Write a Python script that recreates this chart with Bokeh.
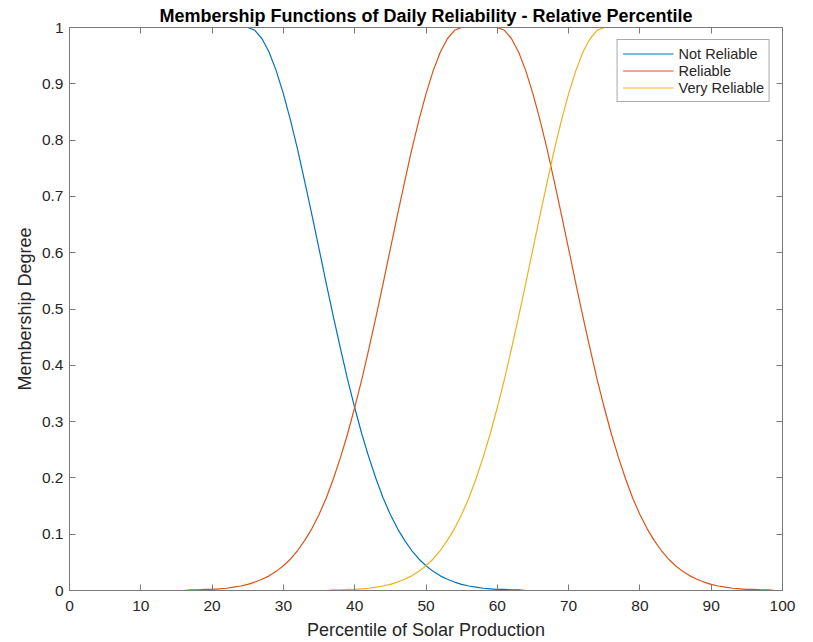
from bokeh.plotting import figure
from bokeh.models import (Range1d, LinearAxis, FixedTicker, Legend, LegendItem)
from bokeh.embed import file_html
from bokeh.resources import INLINE

# ---- data ----
x = list(range(0, 101))

not_reliable = [1.0] * 26 + [
    0.995, 0.980, 0.956, 0.923, 0.882, 0.835, 0.783, 0.726, 0.667, 0.607,
    0.546, 0.487, 0.430, 0.375, 0.325, 0.278, 0.236, 0.198, 0.164, 0.135,
    0.110, 0.089, 0.071, 0.056, 0.044, 0.034, 0.026, 0.020, 0.015, 0.011,
    0.008, 0.006, 0.004, 0.003, 0.002, 0.002, 0.001, 0.001,
] + [0.0] * 37

reliable = [0.0] * 17 + [
    0.001, 0.001, 0.002, 0.002, 0.003, 0.004, 0.006, 0.008, 0.011, 0.015,
    0.020, 0.026, 0.034, 0.044, 0.056, 0.071, 0.089, 0.110, 0.135, 0.164,
    0.198, 0.236, 0.278, 0.325, 0.375, 0.430, 0.487, 0.546, 0.607, 0.667,
    0.726, 0.783, 0.835, 0.882, 0.923, 0.956, 0.980, 0.995,
] + [1.0] * 6 + [
    0.995, 0.980, 0.956, 0.923, 0.882, 0.835, 0.783, 0.726, 0.667, 0.607,
    0.546, 0.487, 0.430, 0.375, 0.325, 0.278, 0.236, 0.198, 0.164, 0.135,
    0.110, 0.089, 0.071, 0.056, 0.044, 0.034, 0.026, 0.020, 0.015, 0.011,
    0.008, 0.006, 0.004, 0.003, 0.002, 0.002, 0.001, 0.001, 0.0, 0.0,
]

very_reliable = [0.0] * 37 + [
    0.001, 0.001, 0.002, 0.002, 0.003, 0.004, 0.006, 0.008, 0.011, 0.015,
    0.020, 0.026, 0.034, 0.044, 0.056, 0.071, 0.089, 0.110, 0.135, 0.164,
    0.198, 0.236, 0.278, 0.325, 0.375, 0.430, 0.487, 0.546, 0.607, 0.667,
    0.726, 0.783, 0.835, 0.882, 0.923, 0.956, 0.980, 0.995,
] + [1.0] * 26

series_names = ["Not Reliable", "Reliable", "Very Reliable"]
series_colors = ["#0072BD", "#D95319", "#EDB120"]

x_ticks = [0, 10, 20, 30, 40, 50, 60, 70, 80, 90, 100]
y_ticks = [0, 0.1, 0.2, 0.3, 0.4, 0.5, 0.6, 0.7, 0.8, 0.9, 1]
y_tick_labels = ["0", "0.1", "0.2", "0.3", "0.4", "0.5", "0.6", "0.7", "0.8", "0.9", "1"]

title_text = "Membership Functions of Daily Reliability - Relative Percentile"
x_label = "Percentile of Solar Production"
y_label = "Membership Degree"

FONT = "Liberation Sans"
AX_COLOR = "#7a7a7a"
TXT_COLOR = "#262626"

p = figure(
    frame_width=713, frame_height=563,
    x_range=Range1d(0, 100), y_range=Range1d(0, 1),
    output_backend="svg", toolbar_location=None,
    x_axis_location=None, y_axis_location=None,
    min_border_left=69, min_border_right=16, min_border_top=27, min_border_bottom=50,
    title=title_text,
)
p.title.align = "center"
p.title.text_font = FONT
p.title.text_font_size = "18px"
p.title.text_font_style = "bold"
p.title.text_color = "black"
p.title.text_line_height = 1.0
p.title.standoff = 3
p.title.offset = 0

p.xgrid.visible = False
p.ygrid.visible = False
p.outline_line_color = None
p.background_fill_color = "white"

def style_axis(ax, labels=True):
    ax.axis_line_color = AX_COLOR
    ax.axis_line_width = 1
    ax.major_tick_line_color = AX_COLOR
    ax.major_tick_in = 6
    ax.major_tick_out = 0
    ax.minor_tick_line_color = None
    if labels:
        ax.major_label_text_font = FONT
        ax.major_label_text_font_size = "15.5px"
        ax.major_label_text_color = TXT_COLOR
        ax.axis_label_text_font = FONT
        ax.axis_label_text_font_size = "18px"
        ax.axis_label_text_font_style = "normal"
        ax.axis_label_text_color = TXT_COLOR
    else:
        ax.major_label_text_font_size = "0px"
        ax.major_label_standoff = 0
        ax.axis_label_standoff = 0

xt = FixedTicker(ticks=x_ticks)
yt = FixedTicker(ticks=y_ticks)
ylab = {float(v) if v != int(v) else int(v): s for v, s in zip(y_ticks, y_tick_labels)}

bottom = LinearAxis(ticker=xt, axis_label=x_label)
style_axis(bottom)
bottom.major_label_standoff = 10
bottom.axis_label_standoff = 6
p.add_layout(bottom, "below")

left = LinearAxis(ticker=yt, axis_label=y_label, major_label_overrides=ylab)
style_axis(left)
left.major_label_standoff = 6
left.axis_label_standoff = 4
p.add_layout(left, "left")

top = LinearAxis(ticker=xt)
style_axis(top, labels=False)
p.add_layout(top, "above")

right = LinearAxis(ticker=yt)
style_axis(right, labels=False)
p.add_layout(right, "right")

renderers = []
for ys, name, col in zip([not_reliable, reliable, very_reliable], series_names, series_colors):
    r = p.line(x, ys, line_color=col, line_width=1.2)
    renderers.append(r)

legend = Legend(
    items=[LegendItem(label=n, renderers=[r]) for n, r in zip(series_names, renderers)],
    location="top_right",
    margin=12, padding=5, spacing=0,
    glyph_width=51, glyph_height=17, label_height=17, label_standoff=5,
    label_text_font=FONT, label_text_font_size="14.5px", label_text_color=TXT_COLOR,
    border_line_color="#555555", border_line_width=1,
    background_fill_color="white", background_fill_alpha=1.0,
)
p.add_layout(legend, "center")

open("out.html", "w").write(file_html(p, INLINE))
